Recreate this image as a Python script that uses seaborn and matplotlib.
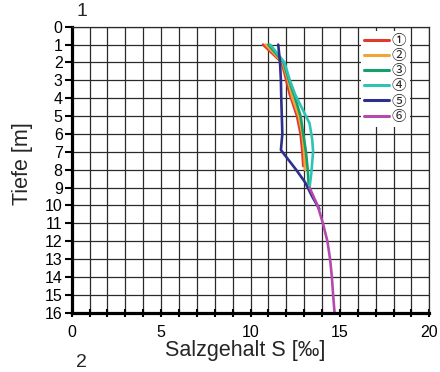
import numpy as np
import pandas as pd
import matplotlib
matplotlib.use("Agg")
import matplotlib.pyplot as plt
import seaborn as sns

# ---- data ----
profiles = ["①", "②", "③", "④", "⑤", "⑥"]
colors = ["#e03a2e", "#f0a535", "#14a06a", "#2ec4b4", "#2e2f8c", "#b44aae"]

depth_1 = [1.0, 2.0, 3.0, 3.8, 5.0, 6.0, 7.0, 7.8]
sal_1 = [10.7, 11.75, 12.0, 12.2, 12.6, 12.8, 12.9, 12.95]

depth_2 = [1.0, 2.0, 3.0, 4.0, 5.0, 6.0, 7.0, 8.0]
sal_2 = [10.85, 11.8, 12.1, 12.35, 12.7, 12.9, 13.0, 13.05]

depth_3 = [1.0, 2.0, 3.0, 4.0, 5.0, 6.0, 7.0, 8.0, 8.8]
sal_3 = [11.0, 11.85, 12.15, 12.5, 12.8, 12.95, 13.1, 13.2, 13.25]

depth_4 = [1.0, 2.0, 3.0, 3.8, 5.0, 5.4, 6.3, 7.0, 8.2, 9.0]
sal_4 = [11.1, 11.9, 12.2, 12.5, 13.1, 13.3, 13.45, 13.5, 13.4, 13.3]

depth_5 = [1.0, 2.0, 3.0, 4.0, 5.0, 6.0, 6.9, 8.0, 8.7, 9.5, 10.2]
sal_5 = [11.55, 11.65, 11.7, 11.72, 11.75, 11.78, 11.7, 12.55, 13.05, 13.45, 13.85]

depth_6 = [9.0, 10.0, 11.0, 12.0, 13.0, 14.0, 15.0, 16.0]
sal_6 = [13.3, 13.75, 14.05, 14.3, 14.45, 14.55, 14.62, 14.7]

x_major = [0, 5, 10, 15, 20]
y_ticks = list(range(0, 17))

depths = [depth_1, depth_2, depth_3, depth_4, depth_5, depth_6]
sals = [sal_1, sal_2, sal_3, sal_4, sal_5, sal_6]
df = pd.concat([
    pd.DataFrame({"Tiefe": d, "S": s, "Profil": p})
    for d, s, p in zip(depths, sals, profiles)
], ignore_index=True)

# ---- style ----
sns.set_style("white")
plt.rcParams["font.family"] = ["Liberation Sans", "DejaVu Sans", "Noto Sans CJK JP"]

fig = plt.figure(figsize=(4.4, 3.72), dpi=100)
ax = fig.add_axes([0.163, 0.1594, 0.8127, 0.7688])

sns.lineplot(data=df, x="S", y="Tiefe", hue="Profil", hue_order=profiles,
             palette=colors, orient="y", estimator=None, sort=True,
             linewidth=1.9, ax=ax, legend=True)

ax.set_xlim(0, 20)
ax.set_ylim(16, 0)
ax.set_xticks(x_major)
ax.set_xticks(range(0, 21), minor=True)
ax.set_yticks(y_ticks)
ax.set_yticklabels([str(v) for v in y_ticks])

ax.grid(True, which="both", color="#2a2a2a", linewidth=0.9)
ax.set_axisbelow(True)

for side in ["left", "bottom"]:
    ax.spines[side].set_linewidth(2.3)
    ax.spines[side].set_color("black")
for side in ["top", "right"]:
    ax.spines[side].set_linewidth(0.9)
    ax.spines[side].set_color("#2a2a2a")

ax.tick_params(axis="x", which="both", direction="inout", length=6, width=1.5,
               labelsize=11.5, pad=6, bottom=True, colors="black")
ax.tick_params(axis="y", which="both", direction="out", length=5, width=1.5,
               labelsize=11.5, pad=1.5, left=True, colors="black")

ax.set_xlabel("Salzgehalt S [‰]", fontsize=15.5)
ax.xaxis.set_label_coords(0.485, -0.097)
ax.set_ylabel("Tiefe [m]", fontsize=15.5)
ax.yaxis.set_label_coords(-0.108, 0.52)

handles, labels = ax.get_legend_handles_labels()
leg = ax.legend(handles, labels, loc="upper left", bbox_to_anchor=(0.81, 0.985),
                frameon=True, facecolor="white", edgecolor="none", framealpha=1,
                fontsize=10.5, handlelength=1.7, handletextpad=0.2,
                labelspacing=0.08, borderpad=0.2, borderaxespad=0)
for t in leg.get_texts():
    t.set_fontfamily(["Noto Sans CJK JP", "DejaVu Sans"])
for l in leg.get_lines():
    l.set_linewidth(2.2)

fig.text(77 / 440, 1 - 12 / 372, "1", fontsize=14, ha="left", va="center")
fig.text(76 / 440, 0.003, "2", fontsize=14, ha="left", va="bottom")

fig.savefig("out.png", dpi=100, facecolor="white")
